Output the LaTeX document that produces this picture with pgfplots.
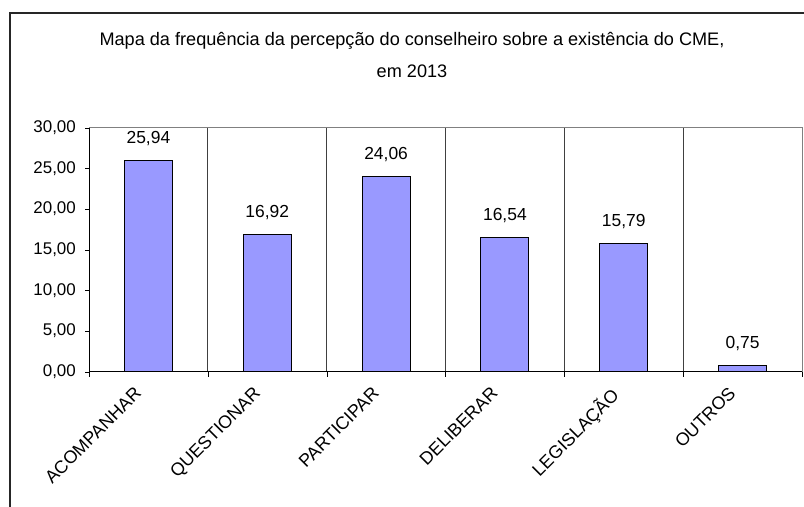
\documentclass[border=0pt]{standalone}
\usepackage{pgfplots}
\pgfplotsset{compat=1.18}
\usepackage{fontspec}
\setmainfont{Liberation Sans}
\definecolor{barfill}{HTML}{9999FF}
\definecolor{plotedge}{HTML}{808080}
\definecolor{sepline}{HTML}{404040}
\begin{document}
\begin{tikzpicture}[x=1bp,y=1bp]
  \useasboundingbox (0,0) rectangle (804,507);
  % chart frame (continues past the page on the right and bottom)
  \draw[line width=1.2bp, black!85] (10,-30) -- (10,494) -- (840,494);
  % title
  \node[anchor=base, font=\fontsize{18.2}{21}\selectfont] at (412,461)
    {Mapa da frequência da percepção do conselheiro sobre a existência do CME,};
  \node[anchor=base, font=\fontsize{18.2}{21}\selectfont] at (412,429) {em 2013};
  \begin{axis}[
    at={(89bp,135.3bp)}, anchor=south west,
    scale only axis, width=713bp, height=244bp,
    xmin=-0.5, xmax=5.5, ymin=0, ymax=30,
    ytick={0,5,...,30},
    xtick={0,...,5},
    xticklabels={ACOMPANHAR,QUESTIONAR,PARTICIPAR,DELIBERAR,LEGISLAÇÃO,OUTROS},
    minor xtick={-0.5,0.5,...,5.5},
    xminorgrids,
    minor grid style={sepline, line width=0.8bp},
    major x tick style={draw=none},
    minor x tick style={black},
    xtick pos=bottom, ytick pos=left,
    tick align=outside,
    major tick length=4bp, minor tick length=5bp,
    y tick style={black},
    axis line style={plotedge, line width=0.8bp},
    tick label style={font=\fontsize{17}{20}\selectfont},
    /pgf/number format/.cd, fixed, fixed zerofill, precision=2, use comma, assume math mode=true,
    /pgfplots/.cd,
    yticklabel style={inner sep=0pt, xshift=-9bp},
    % shifts act along and across the rotated text
    xticklabel style={rotate=45, anchor=north east, inner sep=0pt, yshift=3.6bp, xshift=-17.5bp,
      font=\fontsize{18}{21}\selectfont},
    ybar, bar width=48bp,
    nodes near coords,
    every node near coord/.append style={font=\fontsize{17.5}{20}\selectfont, anchor=base, inner sep=0pt, yshift=17bp, black},
    clip=false,
  ]
    \addplot[fill=barfill, draw=black, line width=1bp] coordinates {
      (0,25.94) (1,16.92) (2,24.06) (3,16.54) (4,15.79) (5,0.75)
    };
    \draw[black, line width=1bp] (rel axis cs:0,1) -- (rel axis cs:0,0) -- (rel axis cs:1,0);
  \end{axis}
\end{tikzpicture}
\end{document}
